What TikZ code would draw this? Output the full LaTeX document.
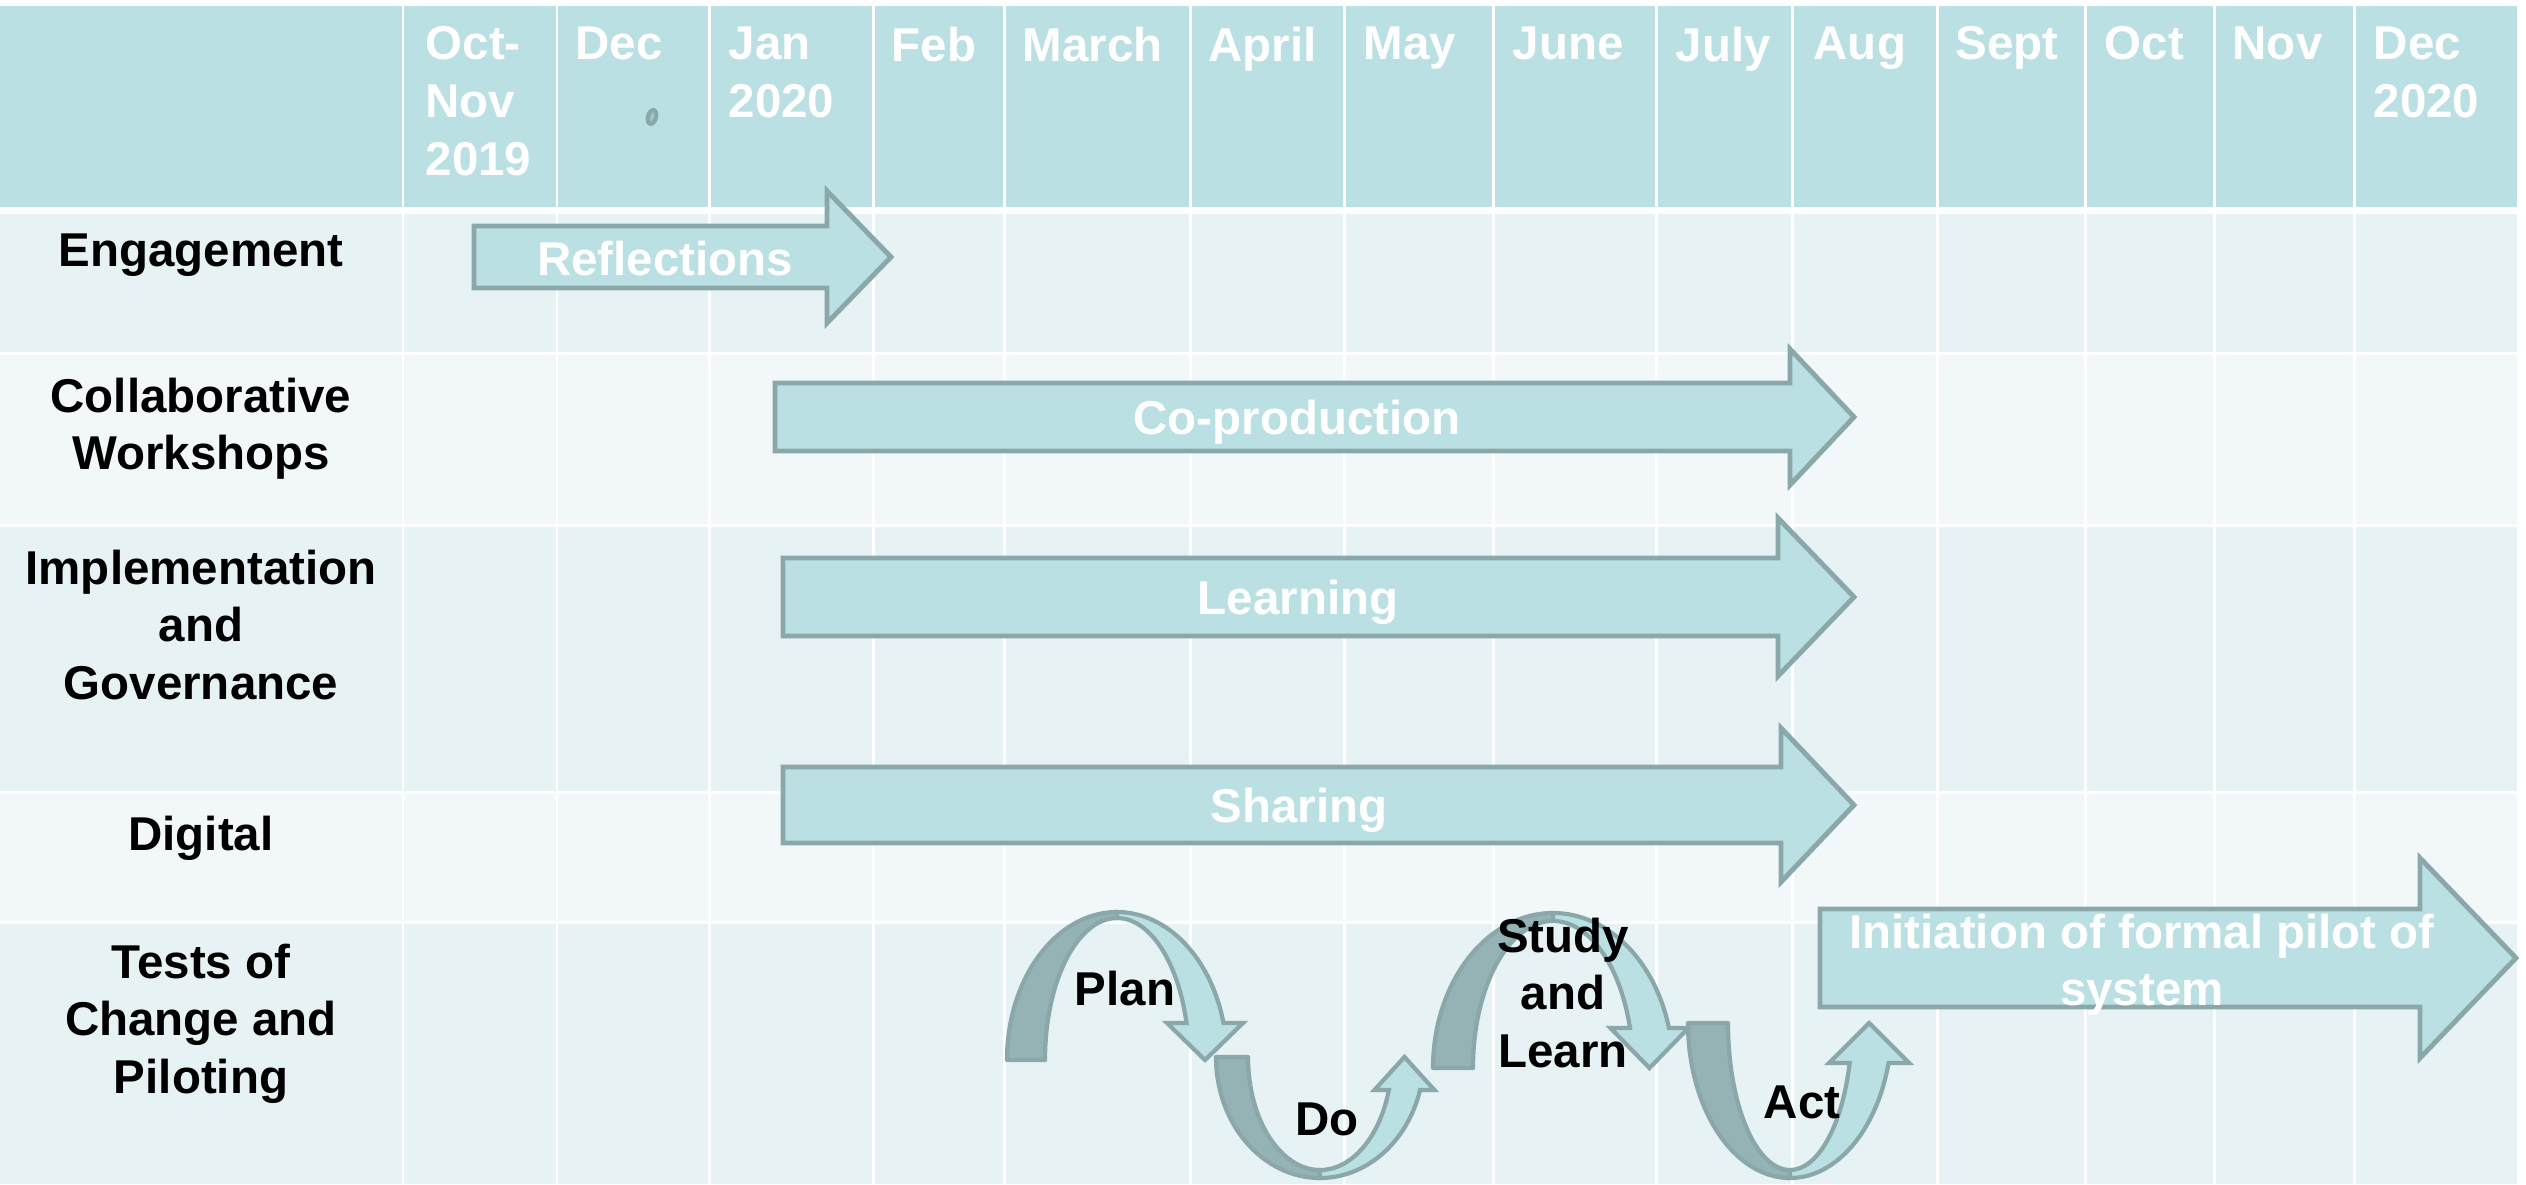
\documentclass[tikz,border=0pt]{standalone}
\usepackage{fontspec}
\setmainfont{Liberation Sans}

\definecolor{headfill}{HTML}{BBE0E3}
\definecolor{rowodd}{HTML}{E6F2F4}
\definecolor{roweven}{HTML}{F2F8FA}
\definecolor{arrowfill}{HTML}{BBE0E3}
\definecolor{arrowline}{HTML}{8AA8AA}
\definecolor{cycledark}{HTML}{95B3B5}

\newcommand{\chartfont}{\fontsize{13.5}{16.4}\selectfont\bfseries}

% left, head base, tip, axis, half shaft, half head
\newcommand{\blockarrow}[6]{%
	\draw[blockarrow] (#1,#4-#5) -- (#2,#4-#5) -- (#2,#4-#6) -- (#3,#4)
	                  -- (#2,#4+#6) -- (#2,#4+#5) -- (#1,#4+#5) -- cycle;}

% cx, cy, side (-1 up, 1 down), outer rx, outer ry, inner rx, inner ry, head length, half head
\newcommand{\cyclearrow}[9]{%
	\pgfmathsetmacro\cyAo{asin(#8/#5)}%
	\pgfmathsetmacro\cyAi{asin(#8/#7)}%
	\pgfmathsetmacro\cyXo{#1+#4*cos(\cyAo)}%
	\pgfmathsetmacro\cyXi{#1+#6*cos(\cyAi)}%
	\pgfmathsetmacro\cyXm{(\cyXo+\cyXi)/2}%
	\pgfmathsetmacro\cyYb{#2+(#3)*#8}%
	\filldraw[cycleback] ({#1-#4},#2)
		arc[start angle=180,delta angle={-(#3)*90},x radius=#4,y radius=#5]
		-- ({#1},{#2+(#3)*#7})
		arc[start angle={180-(#3)*90},delta angle={(#3)*90},x radius=#6,y radius=#7] -- cycle;
	\filldraw[cyclefront] ({#1},{#2+(#3)*#5})
		arc[start angle={180-(#3)*90},delta angle={-(#3)*(90-\cyAo)},x radius=#4,y radius=#5]
		-- ({\cyXm+#9},\cyYb) -- (\cyXm,#2) -- ({\cyXm-#9},\cyYb) -- (\cyXi,\cyYb)
		arc[start angle={180-(#3)*180+(#3)*\cyAi},delta angle={(#3)*(90-\cyAi)},x radius=#6,y radius=#7] -- cycle;}

\begin{document}
\begin{tikzpicture}[x=0.01cm,y=-0.01cm,
	month/.style={anchor=north west,inner sep=0pt,align=left,text=white,font=\chartfont},
	rowlabel/.style={anchor=north,inner sep=0pt,align=center,font=\chartfont},
	bartext/.style={inner sep=0pt,align=center,text=white,font=\chartfont},
	steplabel/.style={inner sep=0pt,align=center,font=\chartfont},
	blockarrow/.style={draw=arrowline,fill=arrowfill,line width=1.4pt},
	cycleback/.style={draw=arrowline,fill=cycledark,line width=1.2pt,line join=round},
	cyclefront/.style={draw=arrowline,fill=arrowfill,line width=1.2pt},
	gridline/.style={white,line width=0.85pt}]

	\useasboundingbox[fill=white] (0,0) rectangle (2526,1184);

	\fill[headfill] (0,6)   rectangle (2517,207);
	\fill[rowodd]   (0,214) rectangle (2517,353);
	\fill[roweven]  (0,353) rectangle (2517,525);
	\fill[rowodd]   (0,525) rectangle (2517,792);
	\fill[roweven]  (0,792) rectangle (2517,922);
	\fill[rowodd]   (0,922) rectangle (2517,1184);

	\foreach \x in {403,557,709,873,1004,1190,1344,1493,1656,1792,1937,2085,2214,2354}
		\draw[gridline] (\x,6) -- (\x,1184);
	\foreach \y in {353,525,792,922}
		\draw[gridline] (0,\y) -- (2517,\y);

	\node[month] (OctNov)  at (425,26)  {Oct-\\Nov\\2019};
	\node[month] (Dec)     at (575,26)  {Dec};
	\node[month] (Jan)     at (728,26)  {Jan\\2020};
	\node[month] (Feb)     at (891,26)  {Feb};
	\node[month] (March)   at (1022,26) {March};
	\node[month] (April)   at (1208,26) {April};
	\node[month] (May)     at (1363,26) {May};
	\node[month] (June)    at (1512,26) {June};
	\node[month] (July)    at (1675,26) {July};
	\node[month] (Aug)     at (1813,26) {Aug};
	\node[month] (Sept)    at (1955,26) {Sept};
	\node[month] (Oct)     at (2104,26) {Oct};
	\node[month] (Nov)     at (2232,26) {Nov};
	\node[month] (DecEnd)  at (2373,26) {Dec\\2020};
	\draw[arrowline,fill=cycledark!60!headfill,line width=1.2pt,rotate around={-15:(652,117)}]
		(652,117) ellipse[x radius=4,y radius=7];

	\node[rowlabel] (Engagement) at (201,233) {Engagement};
	\node[rowlabel] (Workshops)  at (201,377) {Collaborative\\Workshops};
	\node[rowlabel] (Governance) at (201,549) {Implementation\\and\\Governance};
	\node[rowlabel] (Digital)    at (201,815) {Digital};
	\node[rowlabel] (Piloting)   at (201,943) {Tests of\\Change and\\Piloting};

	\blockarrow{474}{827}{891}{257}{31}{66}
	\blockarrow{775}{1790}{1854}{417}{34}{68}
	\blockarrow{783}{1778}{1854}{597}{39}{79}
	\blockarrow{783}{1781}{1854}{805}{38}{77}
	\blockarrow{1820}{2420}{2516}{958}{49}{100}

	\node[bartext,anchor=base]  (Reflections)  at (665,275)   {Reflections};
	\node[bartext,anchor=base]  (CoProduction) at (1297,434)  {Co-production};
	\node[bartext,anchor=base]  (Learning)     at (1298,614)  {Learning};
	\node[bartext,anchor=base]  (Sharing)      at (1299,822)  {Sharing};
	\node[bartext,anchor=north] (Initiation)   at (2142,913)  {Initiation of formal pilot of\\system};

	\cyclearrow{1117}{1060}{-1}{110}{148}{72}{142}{37}{38}
	\cyclearrow{1320}{1057}{1}{104}{121}{72}{113}{33}{30}
	\cyclearrow{1553}{1068}{-1}{120}{155}{80}{147}{40}{39}
	\cyclearrow{1790}{1023}{1}{102}{155}{62}{147}{40}{40}

	\node[steplabel,anchor=base]  (Plan)       at (1125,1005) {Plan};
	\node[steplabel,anchor=base]  (Do)         at (1327,1135) {Do};
	\node[steplabel,anchor=north] (StudyLearn) at (1563,917)  {Study\\and\\Learn};
	\node[steplabel,anchor=base]  (Act)        at (1802,1118) {Act};
\end{tikzpicture}
\end{document}
